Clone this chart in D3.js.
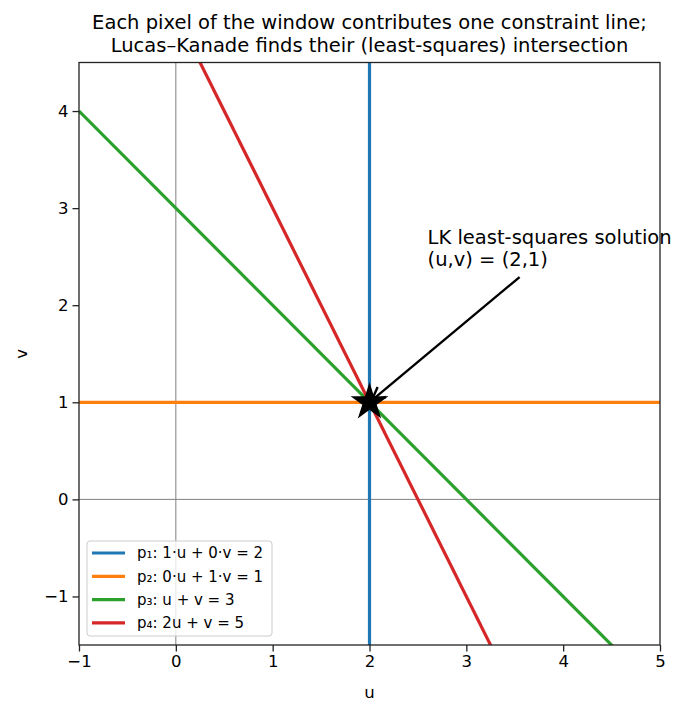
<!DOCTYPE html>
<html><head><meta charset="utf-8">
<script src="https://cdn.jsdelivr.net/npm/d3@7"></script>
<style>body{margin:0;background:#fff;} svg{display:block;font-family:"DejaVu Sans",sans-serif;}</style>
</head><body>
<svg id="c" width="686" height="716"></svg>
<script>
// constraint lines: a*u + b*v = c
const labels = ["p\u2081: 1\u00b7u + 0\u00b7v = 2","p\u2082: 0\u00b7u + 1\u00b7v = 1","p\u2083: u + v = 3","p\u2084: 2u + v = 5"];
const coefA = [1, 0, 1, 2];
const coefB = [0, 1, 1, 1];
const coefC = [2, 1, 3, 5];
const colors = ["#1f77b4","#ff7f0e","#2ca02c","#d62728"];
const solution = [2, 1];
const annotText = ["LK least-squares solution","(u,v) = (2,1)"];
const annotTextPos = [2.6, 2.4];
const annotArrowStart = [3.55, 2.29];
const xDomain = [-1, 5], yDomain = [-1.5, 4.5];
const xTicks = [-1,0,1,2,3,4,5], yTicks = [-1,0,1,2,3,4];

const svg = d3.select("#c");
const L = 79, R = 660, T = 62.5, B = 645;
const x = d3.scaleLinear().domain(xDomain).range([L, R]);
const y = d3.scaleLinear().domain(yDomain).range([B, T]);

svg.append("defs").append("clipPath").attr("id","clip").append("rect")
  .attr("x",L).attr("y",T).attr("width",R-L).attr("height",B-T);
const g = svg.append("g").attr("clip-path","url(#clip)");

// reference axes lines
g.append("line").attr("x1",x(0)).attr("x2",x(0)).attr("y1",T).attr("y2",B).attr("stroke","#808080").attr("stroke-width",1);
g.append("line").attr("x1",L).attr("x2",R).attr("y1",y(0)).attr("y2",y(0)).attr("stroke","#808080").attr("stroke-width",1);

// constraint lines
function seg(i){
  const a=coefA[i], b=coefB[i], c=coefC[i];
  if (b===0){ const u=c/a; return [[u,yDomain[0]],[u,yDomain[1]]]; }
  return [[xDomain[0],(c-a*xDomain[0])/b],[xDomain[1],(c-a*xDomain[1])/b]];
}
const line = d3.line().x(d=>x(d[0])).y(d=>y(d[1]));
labels.forEach((lab,i)=>{
  g.append("path").attr("d",line(seg(i))).attr("stroke",colors[i]).attr("stroke-width",3.2).attr("fill","none");
});

// star
function starPath(r){
  const pts=[]; const ri=r*0.381966;
  for(let k=0;k<10;k++){const ang=-Math.PI/2+k*Math.PI/5; const rr=k%2?ri:r; pts.push([rr*Math.cos(ang),rr*Math.sin(ang)]);}
  return "M"+pts.map(p=>p.join(",")).join("L")+"Z";
}
svg.append("path").attr("d",starPath(17.5)).attr("transform",`translate(${x(solution[0])},${y(solution[1])})`).attr("fill","#000").attr("stroke","#000").attr("stroke-width",1.5).attr("stroke-linejoin","miter");

// spines
svg.append("rect").attr("x",L).attr("y",T).attr("width",R-L).attr("height",B-T).attr("fill","none").attr("stroke","#222").attr("stroke-width",1.3);

// axes
const fmt = d=> d<0 ? "\u2212"+Math.abs(d) : String(d);
const xa = svg.append("g").attr("transform",`translate(0,${B})`).call(d3.axisBottom(x).tickValues(xTicks).tickFormat(fmt).tickSize(6.5).tickPadding(4));
const ya = svg.append("g").attr("transform",`translate(${L},0)`).call(d3.axisLeft(y).tickValues(yTicks).tickFormat(fmt).tickSize(6.5).tickPadding(4));
[xa,ya].forEach(a=>{a.attr("font-size",16.5).attr("font-family","DejaVu Sans"); a.select(".domain").remove(); a.selectAll("text").attr("fill","#000"); a.selectAll("line").attr("stroke","#222").attr("stroke-width",1.3);});

svg.append("text").attr("x",(L+R)/2).attr("y",698).attr("text-anchor","middle").attr("font-size",16.5).text("u");
svg.append("text").attr("transform",`translate(27,${(T+B)/2}) rotate(-90)`).attr("text-anchor","middle").attr("font-size",16.5).text("v");

// title
const title = ["Each pixel of the window contributes one constraint line;","Lucas\u2013Kanade finds their (least-squares) intersection"];
title.forEach((t,i)=>svg.append("text").attr("x",(L+R)/2).attr("y",29+i*22.5).attr("text-anchor","middle").attr("font-size",19.5).text(t));

// annotation
annotText.forEach((t,i)=>svg.append("text").attr("x",x(annotTextPos[0])).attr("y",y(annotTextPos[1])-(annotText.length-1-i)*22.5).attr("font-size",19.5).text(t));
const ax0=x(annotArrowStart[0]), ay0=y(annotArrowStart[1]);
const tx=x(solution[0]), ty=y(solution[1]);
const dx=tx-ax0, dy=ty-ay0, len=Math.hypot(dx,dy), ux=dx/len, uy=dy/len;
const ex=ax0+ux*(len-3), ey=ay0+uy*(len-3);
svg.append("line").attr("x1",ax0).attr("y1",ay0).attr("x2",ex).attr("y2",ey).attr("stroke","#000").attr("stroke-width",2.4);
const hl=13, hw=6.5;
const px=-uy, py=ux;
svg.append("path").attr("d",`M${ex-ux*hl+px*hw},${ey-uy*hl+py*hw}L${ex},${ey}L${ex-ux*hl-px*hw},${ey-uy*hl-py*hw}`).attr("stroke","#000").attr("stroke-width",2.4).attr("fill","none");

// legend
const lg = svg.append("g");
lg.append("rect").attr("x",87).attr("y",541).attr("width",185).attr("height",95).attr("rx",3).attr("fill","#fff").attr("fill-opacity",0.8).attr("stroke","#cccccc").attr("stroke-width",1);
labels.forEach((lab,i)=>{
  const yy = 553 + i*23.3;
  lg.append("line").attr("x1",92).attr("x2",125).attr("y1",yy).attr("y2",yy).attr("stroke",colors[i]).attr("stroke-width",3.2);
  lg.append("text").attr("x",137).attr("y",yy+5.2).attr("font-size",15).text(lab);
});
</script>
</body></html>
